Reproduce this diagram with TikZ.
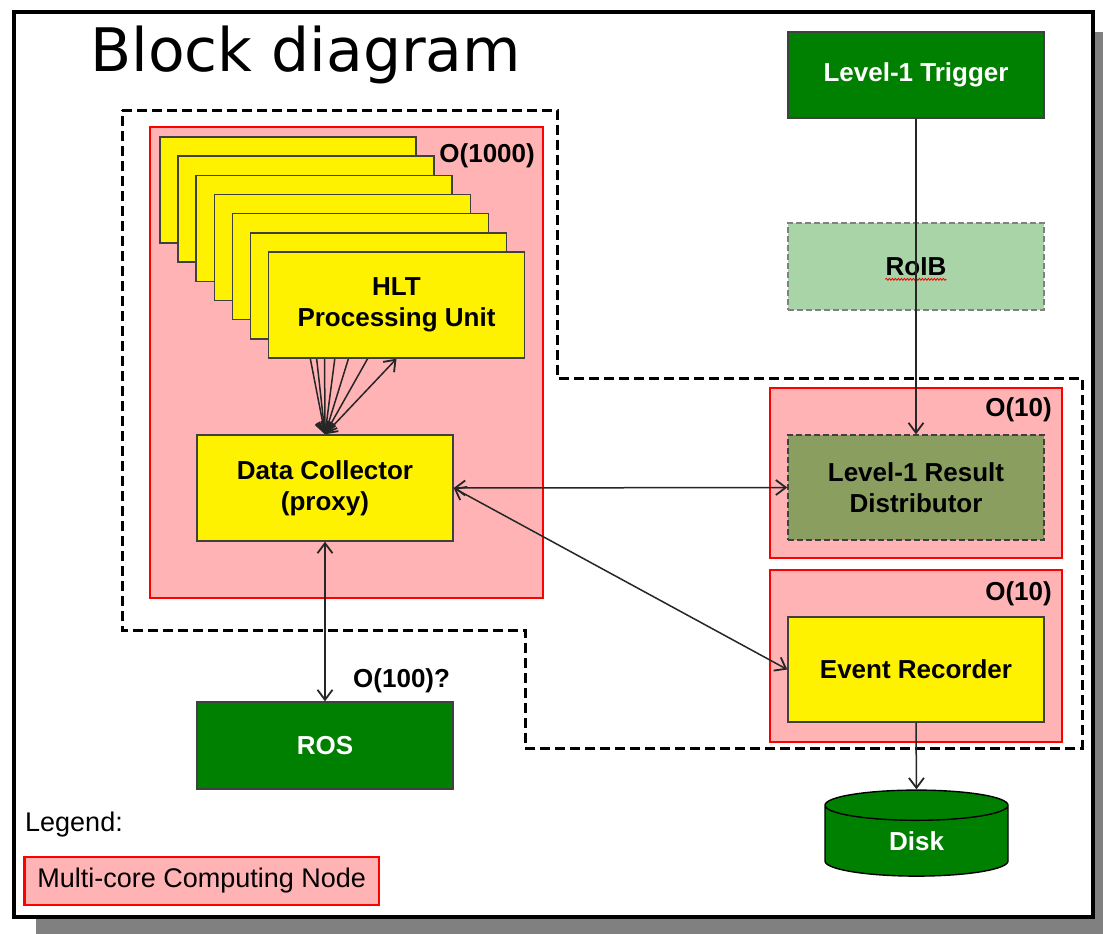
\documentclass[tikz,border=0pt]{standalone}
\usepackage{fontspec}
\setmainfont{Liberation Sans}
\newfontfamily\titlefont{DejaVu Sans}
\usetikzlibrary{arrows.meta,shapes.geometric,decorations.pathmorphing}
\definecolor{nodepink}{RGB}{255,179,181}
\definecolor{shadowgray}{RGB}{128,128,128}
\definecolor{trigreen}{RGB}{0,128,0}
\definecolor{roibgreen}{RGB}{168,212,168}
\definecolor{resultolive}{RGB}{138,158,96}
\pgfdeclarelayer{back}
\pgfdeclarelayer{wires}
\pgfsetlayers{back,wires,main}
\tikzset{
    unitbox/.style={draw=black!75, line width=1.4pt, minimum width=256pt,
        inner sep=0pt, align=center, font=\fontsize{26}{31}\selectfont\bfseries},
    yellowbox/.style={unitbox, fill=yellow, minimum height=#1},
    yellowbox/.default=106pt,
    greenbox/.style={unitbox, fill=trigreen, text=white, minimum height=86pt},
    multicore/.style={draw=red, line width=2.8pt, fill=nodepink},
    wire/.style={draw=black!85, line width=1.5pt},
    orderlabel/.style={font=\fontsize{26}{31}\selectfont\bfseries, inner sep=0pt},
    >={Straight Barb[length=10pt,width=15pt,line width=1.8pt]}
}

\begin{document}
\begin{tikzpicture}[x=1pt,y=-1pt]
    \useasboundingbox (0,0) rectangle (1103,934);

    \begin{pgfonlayer}{back}
        % slide with its drop shadow
        \fill[shadowgray] (36,32) rectangle (1103,934);
        \draw[line width=3.5pt, fill=white] (14,12) rectangle (1093,917);
        % dashed outline round the HLT part
        \draw[line width=3pt, dash pattern=on 10pt off 5pt]
            (122,110) -- (557,110) -- (557,378) -- (1082,378) -- (1082,748)
            -- (525,748) -- (525,630) -- (122,630) -- cycle;
        % multi-core nodes
        \draw[multicore] (150,127) rectangle (543,598);
        \draw[multicore] (770,388) rectangle (1062,558);
        \draw[multicore] (770,570) rectangle (1062,742);
    \end{pgfonlayer}

    \node[anchor=base west, inner sep=0pt, font=\titlefont\fontsize{60}{70}\selectfont]
        (title) at (90,72) {Block diagram};

    % stack of processing units
    \foreach \k in {0,...,5}{
        \node[yellowbox] (hlt\k) at ({288+18.08*\k},{190+19.17*\k}) {};
    }
    \node[yellowbox] (hlt6) at (396.5,305) {HLT\\Processing Unit};
    \node[orderlabel, anchor=east] (nhlt) at (535,156) {O(1000)};

    \node[yellowbox] (dc) at (325,488) {Data Collector\\(proxy)};
    \node[greenbox, minimum height=87pt] (ros) at (325,745.5) {ROS};
    \node[orderlabel, anchor=west] (nros) at (353,681) {O(100)?};

    \node[greenbox] (l1) at (916,75) {Level-1 Trigger};
    \node[unitbox, fill=roibgreen, draw=black!50, dash pattern=on 6pt off 3pt,
        minimum height=87pt] (roib) at (916,266.5) {};
    \node[orderlabel] (roibt) at (roib) {RoIB};
    \draw[red, line width=0.8pt, decorate,
        decoration={snake, amplitude=1pt, segment length=3pt}]
        ([yshift=-4pt]roibt.base west) -- ([yshift=-4pt]roibt.base east);

    \node[unitbox, fill=resultolive, dash pattern=on 6pt off 3pt,
        minimum height=105pt] (l1rd) at (916,487.5) {Level-1 Result\\Distributor};
    \node[orderlabel, anchor=east] (nl1rd) at (1052,410) {O(10)};
    \node[yellowbox=105pt] (er) at (916,669.5) {Event Recorder};
    \node[orderlabel, anchor=east] (ner) at (1052,594) {O(10)};

    \node[cylinder, shape border rotate=90, draw=black, line width=1.4pt,
        fill=trigreen, text=white, minimum width=183pt, minimum height=86pt,
        aspect=0.55, inner sep=0pt, font=\fontsize{26}{31}\selectfont\bfseries]
        (disk) at (916.5,841) {Disk};

    % connections
    \begin{pgfonlayer}{wires}
        \foreach \k in {0,...,6}{
            \draw[wire, <->] (dc.north) -- (hlt\k.south);
        }
    \end{pgfonlayer}
    \draw[wire, <->] (dc.south) -- (ros.north);
    \draw[wire, <->] (dc.east) -- (l1rd.west);
    \draw[wire, <->] (dc.east) -- (er.west);
    \draw[wire, ->] (l1.south) -- (l1rd.north);
    \draw[wire, ->] (er.south) -- (disk.top);

    % legend
    \node[anchor=west, inner sep=0pt, font=\fontsize{27}{32}\selectfont]
        (legend) at (25,825) {Legend:};
    \node[multicore, anchor=west, inner xsep=13pt, inner ysep=0pt,
        minimum height=48pt, font=\fontsize{27}{32}\selectfont]
        (legendnode) at (23,881) {Multi-core Computing Node};
\end{tikzpicture}
\end{document}
